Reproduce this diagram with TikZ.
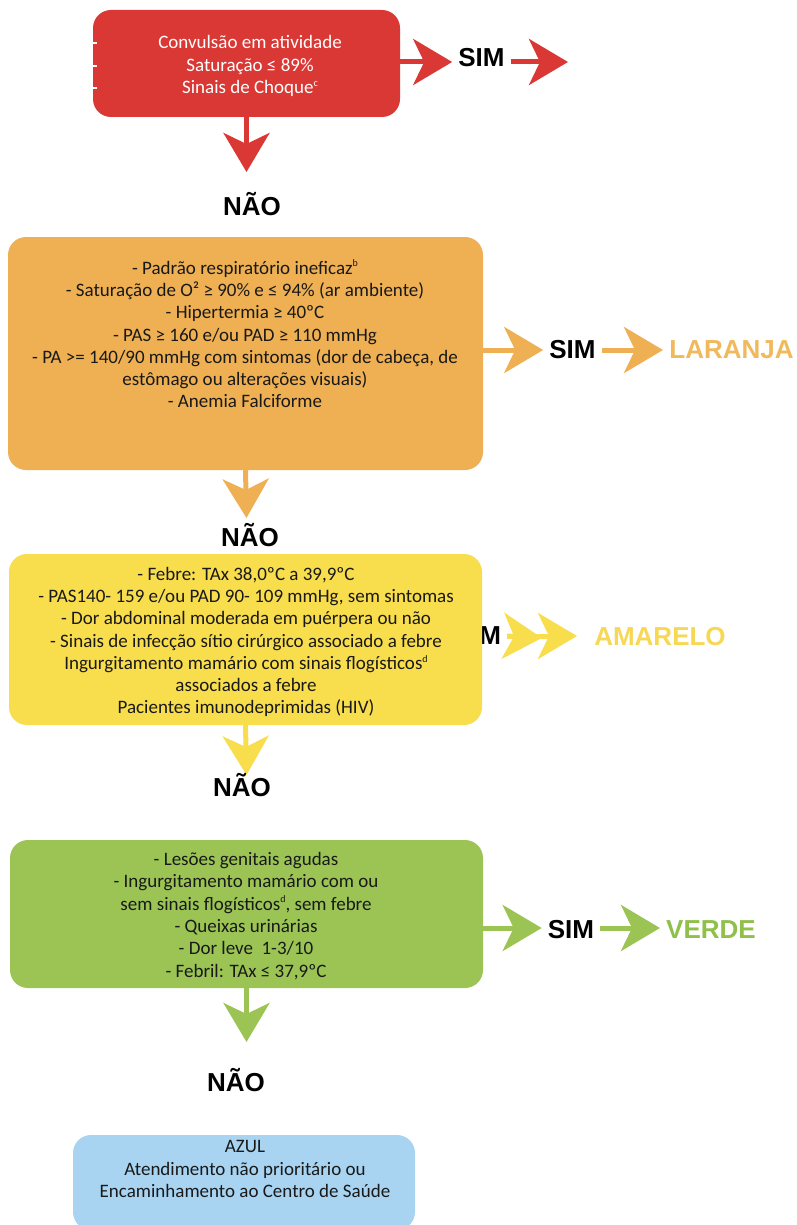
\documentclass[tikz,border=0pt]{standalone}
\usepackage{fontspec}
\setmainfont{Carlito}
\newfontfamily\lblfont{Liberation Sans}
\usetikzlibrary{arrows.meta}
\definecolor{triRed}{RGB}{218,56,52}
\definecolor{triOrange}{RGB}{238,176,82}
\definecolor{triOrangeTxt}{RGB}{240,185,92}
\definecolor{triYellow}{RGB}{248,221,76}
\definecolor{triYellowTxt}{RGB}{246,216,84}
\definecolor{triGreen}{RGB}{155,196,85}
\definecolor{triGreenTxt}{RGB}{143,192,75}
\definecolor{triBlue}{RGB}{168,212,242}
\newcommand{\supr}[1]{\raisebox{0.8ex}{\fontsize{10}{10}\selectfont #1}}
\tikzset{
  box/.style={rounded corners=18pt, inner sep=0pt},
  boxtext/.style={align=center, inner sep=0pt, text=black!90, font=\fontsize{19}{22.3}\selectfont},
  lbl/.style={anchor=base, inner xsep=6pt, inner ysep=0pt, font=\lblfont\bfseries\fontsize{26}{28}\selectfont},
  bigarrow/.style={line width=5pt, -{Stealth[length=39pt,width=46pt,inset=11pt]}},
}
\begin{document}
\begin{tikzpicture}[x=1pt,y=-1pt]
  \useasboundingbox (0,0) rectangle (796,1225);
  % vermelho
  \node[box, fill=triRed, minimum width=307pt, minimum height=107pt] (rdB) at (246.5,63.5) {};
  \node[boxtext, text=white] (rdT) at (250,66) {Convulsão em atividade\\Saturação ≤ 89\%\\Sinais de Choque\supr{c}};
  \foreach \y in {43,66,88}{\draw[white, line width=1.3pt] (93,\y) -- (97,\y);}
  \node[lbl] (rdSim) at (481.5,67) {SIM};
  \coordinate (rdTip) at (568,62);
  \coordinate (rdDn) at (246.5,172);
  \draw[bigarrow, triRed] (rdB.east |- rdTip) -- (rdSim.west |- rdTip);
  \draw[bigarrow, triRed] (rdSim.east |- rdTip) -- (rdTip);
  \draw[bigarrow, triRed] (rdB.south) -- (rdDn);
  \node[lbl] (rdNao) at (252,215) {NÃO};
  % laranja
  \node[box, fill=triOrange, minimum width=475pt, minimum height=233pt] (orB) at (245.5,353.5) {};
  \node[boxtext] (orT) at (245,334) {- Padrão respiratório ineficaz\supr{b}\\
    - Saturação de O² ≥ 90\% e ≤ 94\% (ar ambiente)\\
    - Hipertermia ≥ 40ºC\\
    - PAS ≥ 160 e/ou PAD ≥ 110 mmHg\\
    - PA >= 140/90 mmHg com sintomas (dor de cabeça, de\\
    estômago ou alterações visuais)\\
    - Anemia Falciforme};
  \node[lbl] (orSim) at (572.5,358) {SIM};
  \node[lbl, text=triOrangeTxt] (orRes) at (731.5,358) {LARANJA};
  \coordinate (orTip) at (663,350);
  \coordinate (orDn) at (246.5,518);
  \draw[bigarrow, triOrange] (orB.east |- orTip) -- (orSim.west |- orTip);
  \draw[bigarrow, triOrange] (orSim.east |- orTip) -- (orTip);
  \draw[bigarrow, triOrange] (orB.south) -- (orDn);
  \node[lbl] (orNao) at (250,546) {NÃO};
  % amarelo
  \node[lbl] (yeSim) at (478,644) {SIM};
  \node[box, fill=triYellow, minimum width=473pt, minimum height=171pt] (yeB) at (245.5,639.5) {};
  \node[boxtext] (yeT) at (246,642) {- Febre: TAx 38,0ºC a 39,9ºC\\
    - PAS140- 159 e/ou PAD 90- 109 mmHg, sem sintomas\\
    - Dor abdominal moderada em puérpera ou não\\
    - Sinais de infecção sítio cirúrgico associado a febre\\
    Ingurgitamento mamário com sinais flogísticos\supr{d}\\
    associados a febre\\
    Pacientes imunodeprimidas (HIV)};
  \node[lbl, text=triYellowTxt] (yeRes) at (660,645) {AMARELO};
  \coordinate (yeMid) at (542,638);
  \coordinate (yeTip) at (577,636);
  \coordinate (yeDn) at (246.5,775);
  \draw[bigarrow, triYellow] (yeSim.east |- yeTip) -- (yeMid);
  \draw[bigarrow, triYellow] (yeSim.east |- yeTip) -- (yeTip);
  \draw[bigarrow, triYellow] (yeB.south) -- (yeDn);
  \node[lbl] (yeNao) at (242,796) {NÃO};
  % verde
  \node[box, fill=triGreen, minimum width=473pt, minimum height=148pt] (grB) at (246.5,914) {};
  \node[boxtext] (grT) at (246,916) {- Lesões genitais agudas\\
    - Ingurgitamento mamário com ou\\
    sem sinais flogísticos\supr{d}, sem febre\\
    - Queixas urinárias\\
    - Dor leve\ \ 1-3/10\\
    - Febril: TAx ≤ 37,9ºC};
  \node[lbl] (grSim) at (571,938) {SIM};
  \node[lbl, text=triGreenTxt] (grRes) at (711,938) {VERDE};
  \coordinate (grTip) at (660,928);
  \coordinate (grDn) at (246.5,1042);
  \draw[bigarrow, triGreen] (grB.east |- grTip) -- (grSim.west |- grTip);
  \draw[bigarrow, triGreen] (grSim.east |- grTip) -- (grTip);
  \draw[bigarrow, triGreen] (grB.south) -- (grDn);
  \node[lbl] (grNao) at (236,1091) {NÃO};
  % azul
  \node[box, fill=triBlue, minimum width=342pt, minimum height=95pt] (blB) at (244,1182.5) {};
  \node[boxtext] (blT) at (245,1169) {AZUL\\Atendimento não prioritário ou\\Encaminhamento ao Centro de Saúde};
\end{tikzpicture}
\end{document}
